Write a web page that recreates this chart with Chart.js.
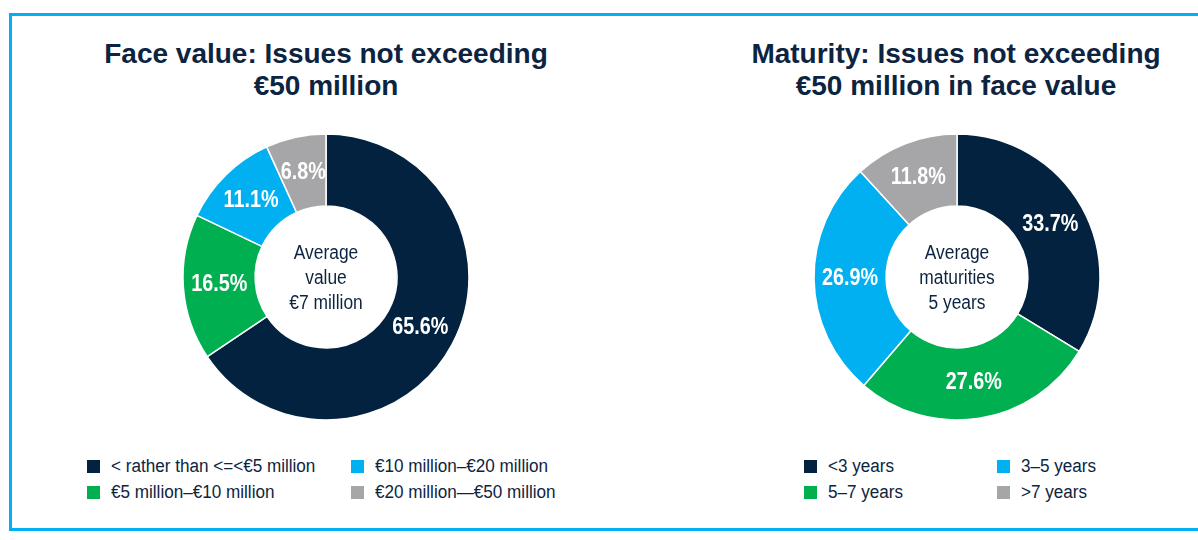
<!DOCTYPE html>
<html lang="en">
<head>
<meta charset="UTF-8">
<title>Issues not exceeding €50 million</title>
<script src="https://cdn.jsdelivr.net/npm/chart.js"></script>
<style>
  body { margin: 0; width: 1198px; height: 540px; background: #fff; overflow: hidden;
         font-family: "Liberation Sans", Arial, sans-serif; color: #0d2441; position: relative; }
  .frame { position: absolute; left: 9px; top: 13px; width: 1200px; height: 512px;
           border: 3px solid #00b0f0; border-right: none; }
  .title { position: absolute; width: 560px; text-align: center; font-weight: bold;
           font-size: 28px; line-height: 32px; top: 38px; }
  canvas { position: absolute; }
  .legend { position: absolute; font-size: 18px; line-height: 26px; }
  .legend .item { position: absolute; white-space: nowrap; }
  .legend .sw { display: inline-block; width: 13px; height: 13px; margin-right: 11px;
                vertical-align: -1px; }
  .legend .txt { display: inline-block; transform: scaleX(0.95); transform-origin: left center; }
</style>
</head>
<body>
<div class="frame"></div>

<div class="title" style="left:46px">Face value: Issues not exceeding<br>€50 million</div>
<div class="title" style="left:676px">Maturity: Issues not exceeding<br>€50 million in face value</div>

<canvas id="faceChart" width="300" height="300" style="left:176px; top:127px"></canvas>
<canvas id="maturityChart" width="300" height="300" style="left:807px; top:127px"></canvas>

<div class="legend" id="faceLegend" style="left:87px; top:453px"></div>
<div class="legend" id="maturityLegend" style="left:804px; top:453px"></div>

<script>
// Face value split
const faceLabels = ['< rather than <=<€5 million', '€5 million–€10 million', '€10 million–€20 million', '€20 million—€50 million'];
const faceValues = [65.6, 16.5, 11.1, 6.8];
const faceCenter = ['Average', 'value', '€7 million'];

// Maturity split
const maturityLabels = ['<3 years', '5–7 years', '3–5 years', '>7 years'];
const maturityValues = [33.7, 27.6, 26.9, 11.8];
const maturityCenter = ['Average', 'maturities', '5 years'];

const colors = ['#03223f', '#00b050', '#00b0f0', '#a6a6a8'];

// narrow text on the canvas
function narrowText(ctx, text, x, y, sx) {
    ctx.save();
    ctx.translate(x, y);
    ctx.scale(sx, 1);
    ctx.fillText(text, 0, 0);
    ctx.restore();
}

// draws the percentage on each slice and the text in the hole
const sliceText = {
    id: 'sliceText',
    afterDraw(chart, args, opts) {
        const ctx = chart.ctx;
        const meta = chart.getDatasetMeta(0);
        ctx.save();
        ctx.textAlign = 'center';
        ctx.textBaseline = 'middle';
        ctx.fillStyle = '#ffffff';
        ctx.font = 'bold 23px "Liberation Sans", Arial, sans-serif';
        meta.data.forEach((arc, i) => {
            const p = arc.tooltipPosition();
            narrowText(ctx, chart.data.datasets[0].data[i].toFixed(1) + '%', p.x, p.y, 0.86);
        });
        const c = meta.data[0];
        ctx.fillStyle = '#0d2441';
        ctx.font = '20px "Liberation Sans", Arial, sans-serif';
        opts.lines.forEach((line, i) => {
            narrowText(ctx, line, c.x, c.y + 1 + (i - 1) * 25, 0.87);
        });
        ctx.restore();
    }
};

function makeDonut(id, values, centerLines) {
    new Chart(document.getElementById(id), {
        type: 'doughnut',
        data: {
            datasets: [{
                data: values,
                backgroundColor: colors,
                borderColor: '#ffffff',
                borderWidth: 1.5,
                radius: 143,
                cutout: 74
            }]
        },
        options: {
            responsive: false,
            animation: false,
            devicePixelRatio: 1,
            layout: { padding: 0 },
            plugins: {
                legend: { display: false },
                tooltip: { enabled: false },
                sliceText: { lines: centerLines }
            }
        },
        plugins: [sliceText]
    });
}

// legend laid out column by column, two rows
function makeLegend(id, labels, colGap) {
    const box = document.getElementById(id);
    box.innerHTML = labels.map((label, i) => {
        const col = Math.floor(i / 2), row = i % 2;
        return `<div class="item" style="left:${col * colGap}px; top:${row * 26}px">` +
               `<span class="sw" style="background:${colors[i]}"></span><span class="txt">${label}</span></div>`;
    }).join('');
}

makeDonut('faceChart', faceValues, faceCenter);
makeDonut('maturityChart', maturityValues, maturityCenter);
makeLegend('faceLegend', faceLabels, 264);
makeLegend('maturityLegend', maturityLabels, 193);
</script>
</body>
</html>
